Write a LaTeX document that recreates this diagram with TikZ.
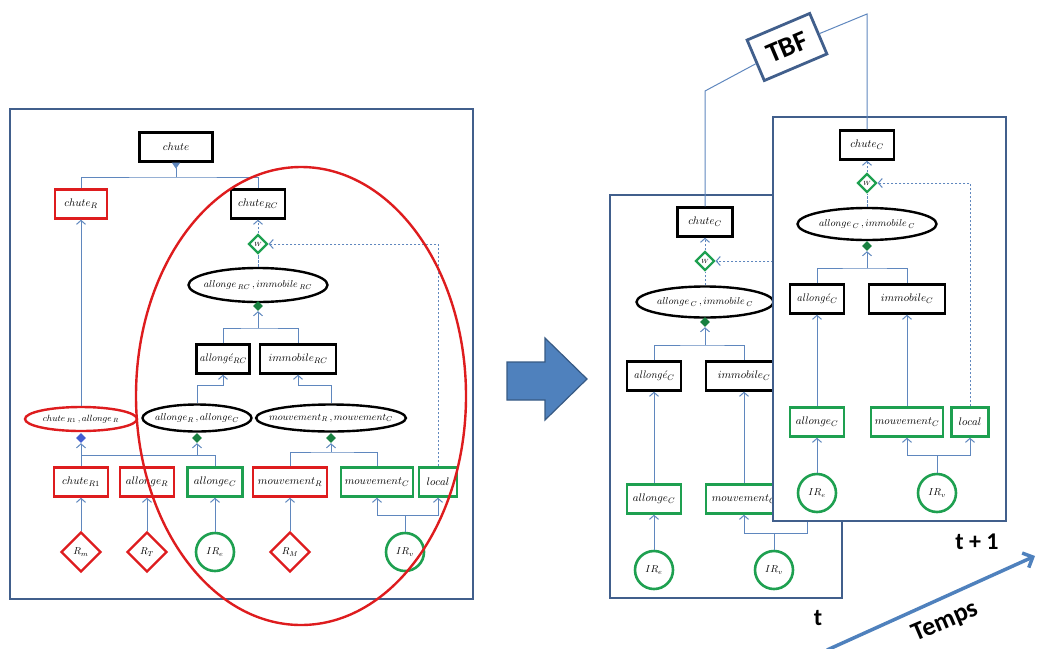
\documentclass[tikz,border=0pt]{standalone}
\usepackage{fontspec}
\newfontfamily\calibri{Carlito}
\usetikzlibrary{shapes.geometric,arrows.meta}
\definecolor{rouge}{RGB}{222,28,30}
\definecolor{vert}{RGB}{30,160,80}
\definecolor{cnx}{RGB}{95,135,190}
\definecolor{cadre}{RGB}{65,95,140}
\definecolor{fleche}{RGB}{79,129,189}
\tikzset{
  ln/.style    = {draw=cnx, line width=1pt},
  arr/.style   = {ln, -{Straight Barb[length=4pt,width=9pt]}},
  dsh/.style   = {ln, dash pattern=on 2.5pt off 1.5pt},
  bx/.style    = {draw=black, line width=2.4pt, fill=white, minimum height=29pt, inner sep=1pt, font=\fontsize{11}{12}\selectfont},
  rbx/.style   = {bx, draw=rouge},
  gbx/.style   = {bx, draw=vert},
  ell/.style   = {ellipse, draw=black, line width=2.4pt, fill=white, inner xsep=-9pt, inner ysep=0pt, font=\fontsize{10}{11}\selectfont},
  rell/.style  = {ell, draw=rouge},
  src/.style   = {diamond, aspect=1, draw=rouge, line width=2.4pt, fill=white, minimum size=40pt, inner sep=0pt, font=\fontsize{10}{11}\selectfont},
  ir/.style    = {circle, draw=vert, line width=2.6pt, fill=white, minimum size=38pt, inner sep=0pt, font=\fontsize{10}{11}\selectfont},
  wdia/.style  = {diamond, aspect=1, draw=vert, line width=2.2pt, fill=white, minimum size=19pt, inner sep=0pt, font=\fontsize{6}{6}\selectfont},
  gmk/.style   = {diamond, aspect=1, fill=vert!80!black, minimum size=10pt, inner sep=0pt},
  bmk/.style   = {gmk, fill=cnx!70!blue},
  panel/.style = {draw=cadre, line width=2.8pt, fill=white},
  lbl/.style   = {font=\calibri\bfseries\fontsize{24}{26}\selectfont}
}
\begin{document}
\begin{tikzpicture}[x=1pt,y=-1pt]
\useasboundingbox (0,0) rectangle (1038,648);
% reseau complet
\draw[panel] (10,109) rectangle (473,599);
\node[bx,minimum width=73pt] (chute) at (176,147) {$chute$};
\node[rbx,minimum width=52pt] (chuteR) at (81,204) {$chute_R$};
\node[bx,minimum width=54pt] (chuteRC) at (258,204) {$chute_{RC}$};
\node[wdia] (w1) at (258,244) {$W$};
\node[ell,minimum width=139pt,minimum height=34pt] (elRC) at (258,285) {$allonge_{\,RC}\,,immobile_{\,RC}$};
\node[gmk] (mRC) at (258,306) {};
\node[bx,minimum width=53pt] (alRC) at (223,359) {\textit{allongé}$_{RC}$};
\node[bx,minimum width=76pt] (imRC) at (298,359) {$immobile_{RC}$};
\node[rell,minimum width=112pt,minimum height=24pt,font=\fontsize{9}{10}\selectfont] (elR) at (81,419) {$chute_{\,R1}\,,allonge_{\,R}$};
\node[ell,minimum width=109pt,minimum height=27pt] (elA) at (197,418) {$allonge_R\,,allonge_C$};
\node[ell,minimum width=148pt,minimum height=27pt] (elM) at (331,418) {$mouvement_R\,,mouvement_C$};
\node[bmk] (mR) at (81,438) {};
\node[gmk] (mA) at (197,438) {};
\node[gmk] (mM) at (331,438) {};
\node[rbx,minimum width=54pt] (chuteR1) at (81,482) {$chute_{R1}$};
\node[rbx,minimum width=54pt] (alR) at (147,482) {$allonge_R$};
\node[gbx,minimum width=55pt] (alC) at (215,482) {$allonge_C$};
\node[rbx,minimum width=74pt] (mvR) at (290,482) {$mouvement_R$};
\node[gbx,minimum width=72pt] (mvC) at (377,482) {$mouvement_C$};
\node[gbx,minimum width=38pt] (loc) at (438,482) {$local$};
\node[src] (Rm) at (81,552) {$R_m$};
\node[src] (RT) at (147,552) {$R_T$};
\node[ir] (IRe) at (215,552) {$IR_e$};
\node[src] (RM) at (290,552) {$R_M$};
\node[ir] (IRv) at (405,552) {$IR_v$};
\coordinate (j0) at (176,177);
\coordinate (j1) at (258,328);
\coordinate (j2) at (197,455);
\coordinate (j4) at (331,452);
\coordinate (j5) at (405,515);
\draw[ln,-{Triangle[reversed,length=6pt,width=8pt]}] (j0) -- (chute.south);
\draw[ln] (chuteR.north) |- (j0) -| (chuteRC.north);
\draw[arr] (elR.north) -- (chuteR.south);
\draw[dsh] (elRC.north) -- (w1.south);
\draw[arr,dsh] (w1.north) -- (chuteRC.south);
\draw[arr,dsh] (loc.north) |- (w1.east);
\draw[ln] (alRC.north) |- (j1) -| (imRC.north);
\draw[arr] (j1) -- (mRC.south);
\draw[arr] (elA.north) -- ++(0,-18) -| (alRC.south);
\draw[arr] (elM.north) -- ++(0,-18) -| (imRC.south);
\draw[arr] (j2) -- (mA.south);
\draw[ln] (chuteR1.north |- j2) -| (alC.north);
\draw[arr] (chuteR1.north) -- (mR.south);
\draw[arr] (j4) -- (mM.south);
\draw[ln] (mvR.north) |- (j4) -| (mvC.north);
\draw[arr] (Rm.north) -- (chuteR1.south);
\draw[arr] (RT.north) -- (alR.south);
\draw[arr] (IRe.north) -- (alC.south);
\draw[arr] (RM.north) -- (mvR.south);
\draw[ln] (IRv.north) -- (j5);
\draw[arr] (j5) -| (mvC.south);
\draw[arr] (j5) -| (loc.south);
\draw[rouge,line width=2.4pt] (301,396) ellipse [x radius=165, y radius=229];
% fleche
\draw[fill=fleche,draw=fleche!70!black,line width=1.2pt] (507,362) -- (545,362) -- (545,338) -- (587,379) -- (545,420) -- (545,400) -- (507,400) -- cycle;
% instant t
\draw[panel] (610,195) rectangle (842,598);
\node[bx,minimum width=55pt] (chuteC1) at (705,222) {$chute_C$};
\node[wdia] (w2) at (705,261) {$W$};
\node[ell,minimum width=137pt,minimum height=31pt] (elC1) at (705,302) {$allonge_{\,C}\,,immobile_{\,C}$};
\node[gmk] (mC1) at (705,322) {};
\node[bx,minimum width=54pt] (alCb1) at (654,376) {\textit{allongé}$_C$};
\node[bx,minimum width=76pt] (imC1) at (744,376) {$immobile_C$};
\node[gbx,minimum width=54pt] (alC1) at (654,499) {$allonge_C$};
\node[gbx,minimum width=76pt] (mvC1) at (744,499) {$mouvement_C$};
\node[gbx,minimum width=38pt] (loc1) at (807,499) {$local$};
\node[ir] (IRe1) at (654,570) {$IR_e$};
\node[ir] (IRv1) at (774,570) {$IR_v$};
\coordinate (j6) at (705,345);
\coordinate (j7) at (774,533);
\draw[arr,dsh] (w2.north) -- (chuteC1.south);
\draw[dsh] (elC1.north) -- (w2.south);
\draw[ln] (alCb1.north) |- (j6) -| (imC1.north);
\draw[arr] (j6) -- (mC1.south);
\draw[arr] (alC1.north) -- (alCb1.south);
\draw[arr] (mvC1.north) -- (imC1.south);
\draw[arr] (IRe1.north) -- (alC1.south);
\draw[ln] (IRv1.north) -- (j7);
\draw[arr] (j7) -| (mvC1.south);
\draw[arr] (j7) -| (loc1.south);
\draw[arr,dsh] (loc1.north) |- (w2.east);
% instant t+1
\draw[panel] (773,117) rectangle (1006,521);
\node[bx,minimum width=54pt] (chuteC2) at (867,145) {$chute_C$};
\node[wdia] (w3) at (867,183) {$W$};
\node[ell,minimum width=139pt,minimum height=32pt] (elC2) at (867,224) {$allonge_{\,C}\,,immobile_{\,C}$};
\node[gmk] (mC2) at (867,246) {};
\node[bx,minimum width=54pt] (alCb2) at (817,299) {\textit{allongé}$_C$};
\node[bx,minimum width=76pt] (imC2) at (907,299) {$immobile_C$};
\node[gbx,minimum width=54pt] (alC2) at (817,422) {$allonge_C$};
\node[gbx,minimum width=72pt] (mvC2) at (907,422) {$mouvement_C$};
\node[gbx,minimum width=37pt] (loc2) at (970,422) {$local$};
\node[ir] (IRe2) at (817,493) {$IR_e$};
\node[ir] (IRv2) at (937,493) {$IR_v$};
\coordinate (j8) at (867,268);
\coordinate (j9) at (937,455);
\draw[arr,dsh] (w3.north) -- (chuteC2.south);
\draw[dsh] (elC2.north) -- (w3.south);
\draw[ln] (alCb2.north) |- (j8) -| (imC2.north);
\draw[arr] (j8) -- (mC2.south);
\draw[arr] (alC2.north) -- (alCb2.south);
\draw[arr] (mvC2.north) -- (imC2.south);
\draw[arr] (IRe2.north) -- (alC2.south);
\draw[ln] (IRv2.north) -- (j9);
\draw[arr] (j9) -| (mvC2.south);
\draw[arr] (j9) -| (loc2.south);
\draw[arr,dsh] (loc2.north) |- (w3.east);
% TBF et temps
\node[draw=cadre,line width=2.8pt,fill=white,rotate=23,minimum width=68pt,minimum height=44pt,lbl,font=\calibri\bfseries\fontsize{28}{30}\selectfont] (tbf) at (787,47) {TBF};
\coordinate (tL) at (705,91);
\coordinate (tR) at (867,14);
\draw[ln] (chuteC1.north) -- (tL) -- (tbf);
\draw[ln] (tbf) -- (tR) -- (chuteC2.north);
\node[lbl] (tt) at (818,618) {t};
\node[lbl] (tt1) at (977,542) {t + 1};
\coordinate (ta) at (827,650);
\coordinate (tb) at (1035,556);
\draw[draw=fleche,line width=3.5pt,-{Straight Barb[length=8pt,width=16pt]}] (ta) -- (tb);
\node[lbl,rotate=23,font=\calibri\bfseries\fontsize{26}{28}\selectfont] (temps) at (945,622) {Temps};
\end{tikzpicture}
\end{document}
